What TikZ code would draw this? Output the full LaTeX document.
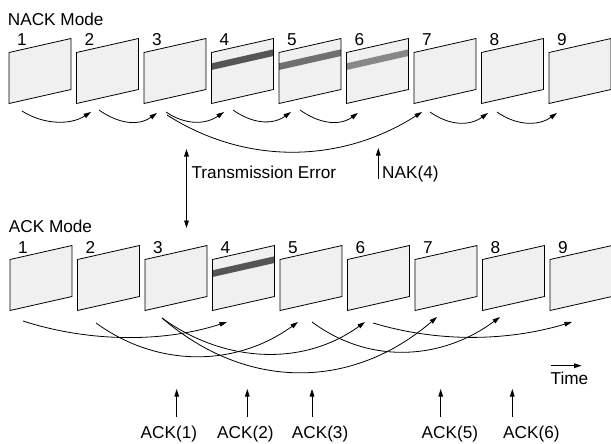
\documentclass[tikz,border=0pt]{standalone}
\usepackage{fontspec}
\setmainfont{Liberation Sans}
\usetikzlibrary{arrows.meta,calc}

\definecolor{framefill}{HTML}{F0F0F0}
\definecolor{errdark}{HTML}{555555}
\definecolor{errmid}{HTML}{707070}
\definecolor{errlight}{HTML}{888888}

% face of a video frame: bottom-left corner named #1 at (#2,#3)
\newcommand\vframe[3]{%
  \coordinate (#1) at ({#2},{#3});
  \fill[framefill] (#1) -- ++(0,-51) -- ++(62,-14) -- ++(0,51) -- cycle;
}
% outline of a video frame
\newcommand\vedge[1]{%
  \draw[frame] (#1) -- ++(0,-51) -- ++(62,-14) -- ++(0,51) -- cycle;
}
% damaged stripe across a frame
\newcommand\vband[2]{%
  \fill[#2] ($(#1)+(0,-40.2)$) -- ++(62,-14) -- ++(0,6.7) -- ++(-62,14) -- cycle;
}
% curved transmission arrow: from, to, control drop, control run
\newcommand\hop[4]{%
  \draw[link] (#1) .. controls ($(#1)+(#4,#3)$) and ($(#2)+(-#4,#3)$) .. (#2);
}

\begin{document}
\begin{tikzpicture}[x=1pt,y=-1pt,
  frame/.style={draw=black,line width=0.8pt,line join=miter},
  txt/.style={font=\fontsize{17.2}{20}\selectfont,inner sep=0pt,anchor=base west},
  num/.style={font=\fontsize{17.2}{20}\selectfont,inner sep=0pt,anchor=base},
  link/.style={line width=0.8pt,-{Triangle[length=7.5pt,width=4.6pt]}},
]
\useasboundingbox (0,0) rectangle (611,444);

% ---------- NACK mode ----------
\node[txt] (nackhead) at (7.7,25.8) {NACK Mode};
\foreach \i in {1,...,9}{
  \vframe{t\i}{9+67.5*(\i-1)}{103.5}
  \node[num] (tn\i) at ($(t\i)+(13,-57.5)$) {\i};
}
\vband{t4}{errdark}
\vband{t5}{errmid}
\vband{t6}{errlight}
\foreach \i in {1,...,9}{\vedge{t\i}}

\coordinate (ts1) at (22,111);   \coordinate (te2) at (91,112);
\coordinate (ts2) at (99,110);   \coordinate (te3) at (157,113);
\coordinate (ts3) at (166,112);  \coordinate (te4) at (224,112);
\coordinate (ts4) at (233,110);  \coordinate (te5) at (291,112);
\coordinate (ts5) at (300,110);  \coordinate (te6) at (358,113);
\coordinate (ts7) at (430,112);  \coordinate (te8) at (488,113);
\coordinate (ts8) at (497,112);  \coordinate (te9) at (557,113);
\coordinate (tr3) at (167,115);  \coordinate (te7) at (422,112);

\hop{ts1}{te2}{13.5}{21}
\hop{ts2}{te3}{13.5}{19}
\hop{ts3}{te4}{13}{19}
\hop{ts4}{te5}{13.5}{19}
\hop{ts5}{te6}{13.5}{19}
\hop{ts7}{te8}{13.5}{19}
\hop{ts8}{te9}{13.5}{19}
\hop{tr3}{te7}{51}{80}

% ---------- error / NAK ----------
\node[txt] (errlbl) at (191.4,178.5) {Transmission Error};
\coordinate (errtop) at (186.5,149);
\coordinate (errbot) at (186.5,228);
\draw[line width=0.8pt,{Triangle[length=7.5pt,width=4.6pt]}-{Triangle[length=7.5pt,width=4.6pt]}] (errtop) -- (errbot);

\node[txt] (naklbl) at (382,178.5) {NAK(4)};
\coordinate (nakfoot) at (378.3,178.5);
\coordinate (nakhead) at (378.3,148);
\draw[link] (nakfoot) -- (nakhead);

% ---------- ACK mode ----------
\node[txt] (ackhead) at (8.7,232.8) {ACK Mode};
\foreach \i in {1,...,9}{
  \vframe{b\i}{10+67.5*(\i-1)}{310.5}
  \node[num] (bn\i) at ($(b\i)+(13,-57.5)$) {\i};
}
\vband{b4}{errdark}
\foreach \i in {1,...,9}{\vedge{b\i}}

\coordinate (bs1) at (23,321);   \coordinate (be4) at (227,322);
\coordinate (bs2) at (96,323);   \coordinate (be5) at (298,322);
\coordinate (bs3) at (162,318);  \coordinate (be6) at (365,322);
                                 \coordinate (be7) at (437,317);
\coordinate (bs5) at (312,322);  \coordinate (be8) at (500,317);
\coordinate (bs6) at (373,323);  \coordinate (be9) at (572,322);

\hop{bs1}{be4}{21}{65}
\hop{bs2}{be5}{45}{62}
\hop{bs3}{be6}{45}{62}
\hop{bs3}{be7}{73}{85}
\hop{bs5}{be8}{43}{58}
\hop{bs6}{be9}{19.5}{65}

% time axis
\coordinate (tstart) at (550.7,365.7);
\coordinate (tend) at (581.7,365.7);
\draw[link] (tstart) -- (tend);
\node[txt] (timelbl) at (550.5,384.8) {Time};

% acknowledgements
\foreach \n/\ax/\lx in {1/176.7/140.5, 2/247.3/217, 3/312/291.7, 5/440.7/421.5, 6/512.3/503}{
  \coordinate (af\n) at (\ax,417);
  \coordinate (ah\n) at (\ax,389);
  \draw[link] (af\n) -- (ah\n);
  \node[txt] (ack\n) at (\lx,438.8) {ACK(\n)};
}
\end{tikzpicture}
\end{document}
